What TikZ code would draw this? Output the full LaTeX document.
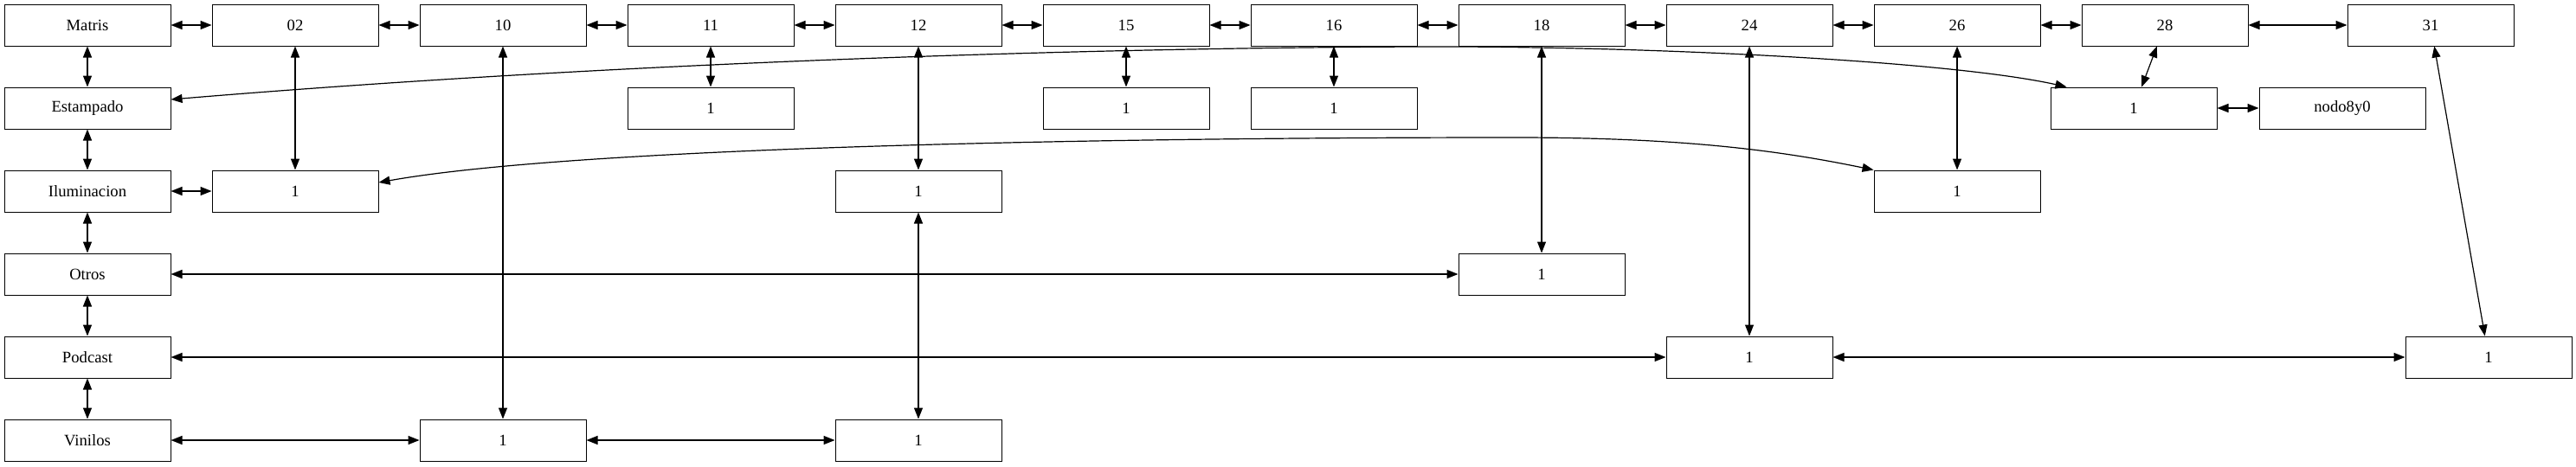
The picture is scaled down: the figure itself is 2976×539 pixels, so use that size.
\documentclass[tikz,border=0pt]{standalone}
\usepackage{fontspec}
\setmainfont{Liberation Serif}
\usetikzlibrary{arrows.meta,calc}
\begin{document}
\begin{tikzpicture}[x={(0.75pt,0)},y={(0,-0.75pt)},
  box/.style={draw, line width=0.75pt, minimum width=144pt, minimum height=36pt, inner sep=0pt, font=\fontsize{14}{16}\selectfont},
  link/.style={line width=0.9pt, {Triangle[length=9.75pt,width=7.5pt]}-{Triangle[length=9.75pt,width=7.5pt]}}]
\useasboundingbox (0,0) rectangle (2976,539);
% top row
\node[box] (m)   at (101,29) {Matris};
\node[box] (c02) at (341,29) {02};
\node[box] (c10) at (581,29) {10};
\node[box] (c11) at (821,29) {11};
\node[box] (c12) at (1061,29) {12};
\node[box] (c15) at (1301,29) {15};
\node[box] (c16) at (1541,29) {16};
\node[box] (c18) at (1781,29) {18};
\node[box] (c24) at (2021,29) {24};
\node[box] (c26) at (2261,29) {26};
\node[box] (c28) at (2501,29) {28};
\node[box] (c31) at (2808,29) {31};
% left column
\node[box] (est) at (101,125) {Estampado};
\node[box] (ilu) at (101,221) {Iluminacion};
\node[box] (otr) at (101,317) {Otros};
\node[box] (pod) at (101,413) {Podcast};
\node[box] (vin) at (101,509) {Vinilos};
% row 2
\node[box] (r2a) at (821,125) {1};
\node[box] (r2b) at (1301,125) {1};
\node[box] (r2c) at (1541,125) {1};
\node[box] (r2d) at (2465,125) {1};
\node[box] (nodo) at (2706,125) {nodo8y0};
% row 3
\node[box] (r3a) at (341,221) {1};
\node[box] (r3b) at (1061,221) {1};
\node[box] (r3c) at (2261,221) {1};
% row 4
\node[box] (r4a) at (1781,317) {1};
% row 5
\node[box] (r5a) at (2021,413) {1};
\node[box] (r5b) at (2875,413) {1};
% row 6
\node[box] (r6a) at (581,509) {1};
\node[box] (r6b) at (1061,509) {1};
% top row chain
\draw[link] (m) -- (c02);
\draw[link] (c02) -- (c10);
\draw[link] (c10) -- (c11);
\draw[link] (c11) -- (c12);
\draw[link] (c12) -- (c15);
\draw[link] (c15) -- (c16);
\draw[link] (c16) -- (c18);
\draw[link] (c18) -- (c24);
\draw[link] (c24) -- (c26);
\draw[link] (c26) -- (c28);
\draw[link] (c28) -- (c31);
% left column chain
\draw[link] (m) -- (est);
\draw[link] (est) -- (ilu);
\draw[link] (ilu) -- (otr);
\draw[link] (otr) -- (pod);
\draw[link] (pod) -- (vin);
% verticals
\draw[link] (c02) -- (r3a);
\draw[link] (c10) -- (r6a);
\draw[link] (c11) -- (r2a);
\draw[link] (c12) -- (r3b);
\draw[link] (r3b) -- (r6b);
\draw[link] (c15) -- (r2b);
\draw[link] (c16) -- (r2c);
\draw[link] (c18) -- (r4a);
\draw[link] (c24) -- (r5a);
\draw[link] (c26) -- (r3c);
\draw[link] (c28) -- (r2d);
\draw[link] (c31) -- (r5b);
% horizontals
\draw[link] (ilu) -- (r3a);
\draw[link] (otr) -- (r4a);
\draw[link] (pod) -- (r5a);
\draw[link] (r5a) -- (r5b);
\draw[link] (vin) -- (r6a);
\draw[link] (r6a) -- (r6b);
\draw[link] (r2d) -- (nodo);
% curves
\draw[link] ($(est.east)+(0,-10)$) .. controls (700,73) and (1250,55) .. (1650,54)
  .. controls (1900,53.4) and (2250,70) .. ($(r2d.north west)+(19,0)$);
\draw[link] ($(r3a.east)+(0,-10)$) .. controls (650,173) and (1200,159) .. (1750,159)
  .. controls (1950,159) and (2060,175) .. (r3c.north west);
\end{tikzpicture}
\end{document}
